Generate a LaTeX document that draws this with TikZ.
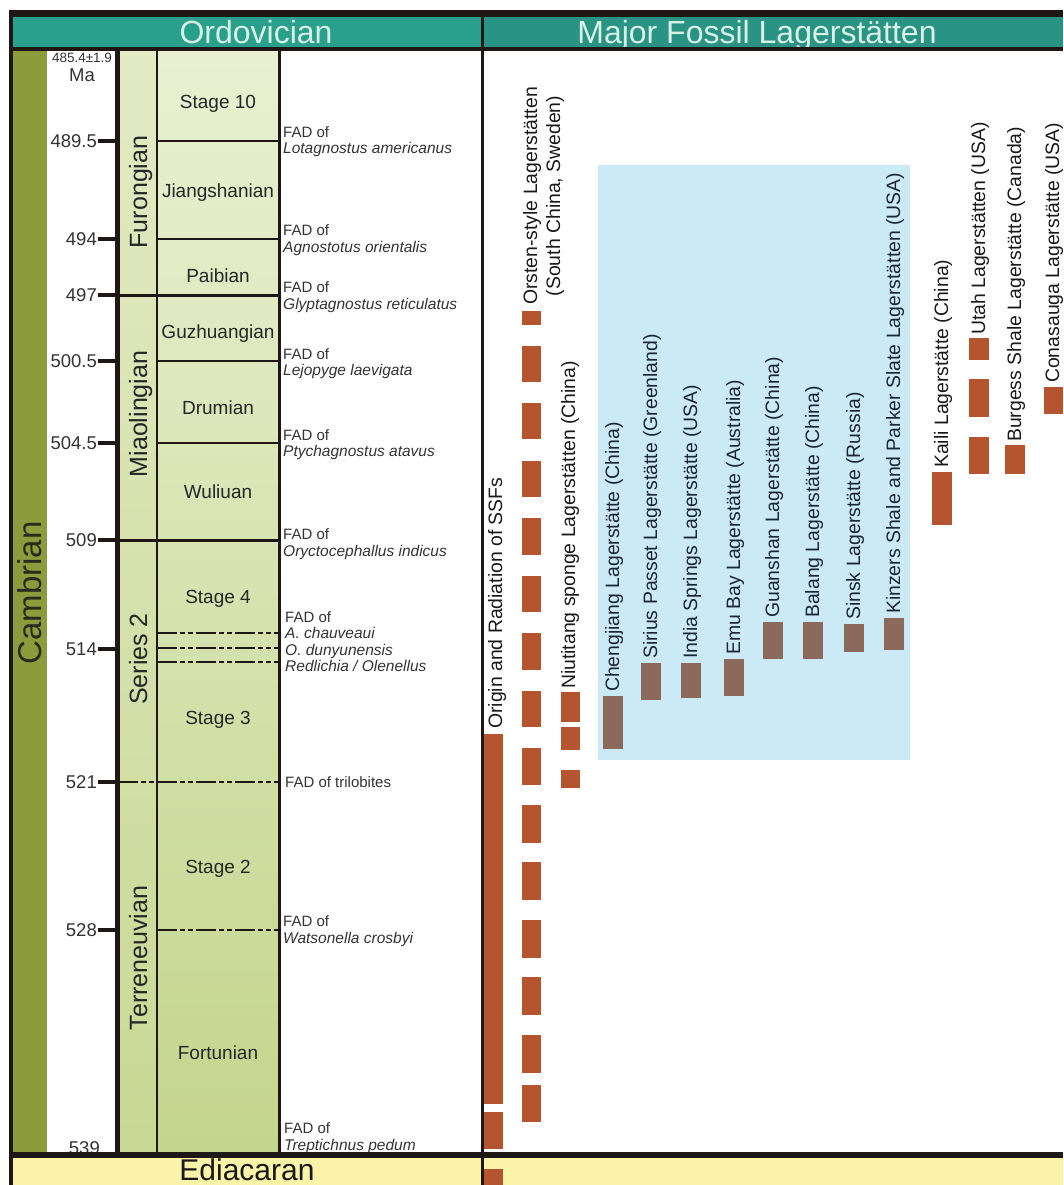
\documentclass[tikz,border=0pt]{standalone}
\usepackage{fontspec}
\setmainfont{Liberation Sans}
\definecolor{linec}{HTML}{1E1716}
\definecolor{hdrL}{HTML}{28A08B}
\definecolor{hdrR}{HTML}{2A9484}
\definecolor{hdrtxt}{HTML}{D8F0E6}
\definecolor{camb}{HTML}{8C9B3B}
\definecolor{cambtxt}{HTML}{2A2B1C}
\definecolor{stgtop}{HTML}{E9F0D2}
\definecolor{stgbot}{HTML}{C4D58C}
\definecolor{sertop}{HTML}{E2EAC4}
\definecolor{serbot}{HTML}{C9D894}
\definecolor{edia}{HTML}{FAF3A8}
\definecolor{bluebox}{HTML}{CCE9F6}
\definecolor{barc}{HTML}{B5552F}
\definecolor{barg}{HTML}{8B6A5B}
\definecolor{fadtxt}{HTML}{333333}
\definecolor{navy}{HTML}{1C2438}
\begin{document}
\begin{tikzpicture}[x=1pt,y=-1pt,
  hdrtext/.style={inner sep=0, anchor=base, font=\fontsize{32}{36}\selectfont},
  serieslbl/.style={rotate=90, anchor=base, inner sep=0, font=\fontsize{25}{28}\selectfont, text=black!85},
  stagelbl/.style={anchor=base, inner sep=0, font=\fontsize{19}{22}\selectfont, text=black!85},
  malbl/.style={anchor=base east, inner sep=0, font=\fontsize{18.5}{21}\selectfont, text=black!80},
  fadlbl/.style={anchor=base west, inner sep=0, font=\fontsize{15}{17}\selectfont, text=fadtxt},
  fadit/.style={anchor=base west, inner sep=0, font=\fontsize{15.5}{17}\selectfont\itshape, text=fadtxt},
  laglbl/.style={rotate=90, anchor=base west, inner sep=0, font=\fontsize{19.4}{23}\selectfont, text=black!90},
  lagblue/.style={laglbl, text=navy},
  obar/.style={fill=barc},
  gbar/.style={fill=barg},
  bline/.style={draw=linec, line width=2},
  sline/.style={draw=linec, line width=3},
  dline/.style={draw=linec, line width=2, dash pattern=on 20pt off 3pt on 5pt off 3pt on 5pt off 3pt},
  matick/.style={draw=linec, line width=4},
  frame/.style={draw=linec}
]
\useasboundingbox (0,0) rectangle (1063,1185);
\clip (0,0) rectangle (1063,1185);
% ---------- backgrounds ----------
\fill[hdrL] (11,13) rectangle (482,49);
\fill[hdrR] (482,13) rectangle (1063,49);
\fill[camb] (13,49) rectangle (47,1155);
\shade[top color=sertop, bottom color=serbot] (118,49) rectangle (157,1155);
\shade[top color=stgtop, bottom color=stgbot] (157,49) rectangle (279,1155);
\fill[edia] (11,1155) rectangle (1063,1185);
\fill[bluebox] (598,165) rectangle (910,760);
% ---------- headers ----------
\node[hdrtext, text=hdrtxt] (ordo) at (256,44) {Ordovician};
\node[hdrtext, text=hdrtxt] (major) at (757,44) {Major Fossil Lagerstätten};
\node[inner sep=0, anchor=base, font=\fontsize{30}{33}\selectfont, text=black!90] (edi) at (247,1180.5) {Ediacaran};
\node[rotate=90, anchor=base, inner sep=0, font=\fontsize{33}{36}\selectfont, text=cambtxt] (cam) at (41.5,593) {Cambrian};
% ---------- series ----------
\node[serieslbl] (furo) at (147,192) {Furongian};
\node[serieslbl] (miao) at (147,414) {Miaolingian};
\node[serieslbl] (ser2) at (147,659) {Series 2};
\node[serieslbl] (terr) at (147,958) {Terreneuvian};
% ---------- stages ----------
\node[stagelbl] (s10) at (218,109) {Stage 10};
\node[stagelbl] (jia) at (218,197) {Jiangshanian};
\node[stagelbl] (pai) at (218,282) {Paibian};
\node[stagelbl] (guz) at (218,338) {Guzhuangian};
\node[stagelbl] (dru) at (218,414) {Drumian};
\node[stagelbl] (wul) at (218,498) {Wuliuan};
\node[stagelbl] (st4) at (218,603) {Stage 4};
\node[stagelbl] (st3) at (218,724) {Stage 3};
\node[stagelbl] (st2) at (218,873) {Stage 2};
\node[stagelbl] (fort) at (218,1059) {Fortunian};
% ---------- Ma column ----------
\node[anchor=base, inner sep=0, font=\fontsize{13.5}{15}\selectfont, text=black!80] (ma0) at (82,63) {485.4±1.9};
\node[anchor=base, inner sep=0, font=\fontsize{18.5}{21}\selectfont, text=black!80] (ma) at (82,82) {Ma};
\foreach \v/\yy in {489.5/141, 494/239, 497/295, 500.5/361, 504.5/443, 509/540, 514/649, 521/782, 528/930} {
  \draw[matick] (98,\yy) -- (117,\yy);
  \node[malbl] at (97,\yy+6.5) {\v};
}
\node[malbl] (m539) at (100,1154) {539};
% ---------- FAD labels ----------
\node[fadlbl] (fa1) at (283,137.5) {FAD of};
\node[fadit]  (fb1) at (283,153.5) {Lotagnostus americanus};
\node[fadlbl] (fa2) at (283,235) {FAD of};
\node[fadit]  (fb2) at (283,252) {Agnostotus orientalis};
\node[fadlbl] (fa3) at (283,292) {FAD of};
\node[fadit]  (fb3) at (283,309) {Glyptagnostus reticulatus};
\node[fadlbl] (fa4) at (283,359) {FAD of};
\node[fadit]  (fb4) at (283,375) {Lejopyge laevigata};
\node[fadlbl] (fa5) at (283,440) {FAD of};
\node[fadit]  (fb5) at (283,456) {Ptychagnostus atavus};
\node[fadlbl] (fa6) at (283,539) {FAD of};
\node[fadit]  (fb6) at (283,556) {Oryctocephallus indicus};
\node[fadlbl] (fa7) at (285,622) {FAD of};
\node[fadit]  (fb7) at (285,638) {A. chauveaui};
\node[fadit]  (fc7) at (285,655) {O. dunyunensis};
\node[fadit]  (fd7) at (285,671) {Redlichia / Olenellus};
\node[fadlbl] (fa8) at (285,787) {FAD of trilobites};
\node[fadlbl] (fa9) at (283,926) {FAD of};
\node[fadit]  (fb9) at (283,943) {Watsonella crosbyi};
\node[fadlbl] (fa10) at (284,1133) {FAD of};
\node[fadit]  (fb10) at (284,1150) {Treptichnus pedum};
% ---------- stage boundaries ----------
\draw[bline] (157,141) -- (279,141);
\draw[bline] (157,239) -- (279,239);
\draw[sline] (118,295) -- (279,295);
\draw[bline] (157,361) -- (279,361);
\draw[bline] (157,443) -- (279,443);
\draw[sline] (118,540) -- (279,540);
\draw[dline] (157,633) -- (279,633);
\draw[dline] (157,648) -- (279,648);
\draw[dline] (157,662) -- (279,662);
\draw[dline] (118,782) -- (279,782);
\draw[dline] (157,930) -- (279,930);
% ---------- bars ----------
\fill[obar] (483,734) rectangle (503,1104);
\fill[obar] (483,1112) rectangle (503,1149);
\fill[obar] (483,1169) rectangle (503,1190);
\foreach \a/\b in {311/325,346/382,403/439,461/497,518/555,576/612,633/670,691/727,748/785,805/843,862/900,920/958,977/1015,1035/1073,1085/1122}
  \fill[obar] (522,\a) rectangle (541,\b);
\fill[obar] (561,692) rectangle (580,722);
\fill[obar] (561,727) rectangle (580,750);
\fill[obar] (561,770) rectangle (580,788);
\fill[gbar] (603,696) rectangle (623,749);
\fill[gbar] (641,663) rectangle (661,700);
\fill[gbar] (681,663) rectangle (701,698);
\fill[gbar] (724,659) rectangle (744,696);
\fill[gbar] (763,622) rectangle (783,659);
\fill[gbar] (803,622) rectangle (823,659);
\fill[gbar] (844,624) rectangle (864,652);
\fill[gbar] (884,618) rectangle (904,650);
\fill[obar] (932,472) rectangle (952,525);
\fill[obar] (969,338) rectangle (989,360);
\fill[obar] (969,379) rectangle (989,417);
\fill[obar] (969,437) rectangle (989,474);
\fill[obar] (1005,445) rectangle (1025,474);
\fill[obar] (1044,387) rectangle (1063,414);
% ---------- Lagerstaetten labels ----------
\node[laglbl] (ssf) at (502,729) {Origin and Radiation of SSFs};
\node[rotate=90, anchor=base, inner sep=0, font=\fontsize{19.4}{23}\selectfont, text=black!90] (ors1) at (537,196) {Orsten-style Lagerstätten};
\node[rotate=90, anchor=base, inner sep=0, font=\fontsize{19.4}{23}\selectfont, text=black!90] (ors2) at (560,196) {(South China, Sweden)};
\node[laglbl] (niu) at (575,689) {Niutitang sponge Lagerstätten (China)};
\node[lagblue] (che) at (619,692) {Chengjiang Lagerstätte (China)};
\node[lagblue] (sir) at (657,659) {Sirius Passet Lagerstätte (Greenland)};
\node[lagblue] (ind) at (697,659) {India Springs Lagerstätte (USA)};
\node[lagblue] (emu) at (740,655) {Emu Bay Lagerstätte (Australia)};
\node[lagblue] (gua) at (779,618) {Guanshan Lagerstätte (China)};
\node[lagblue] (bal) at (819,618) {Balang Lagerstätte (China)};
\node[lagblue] (sin) at (860,620) {Sinsk Lagerstätte (Russia)};
\node[lagblue] (kin) at (900,614) {Kinzers Shale and Parker Slate Lagerstätten (USA)};
\node[laglbl] (kai) at (948,468) {Kaili Lagerstätte (China)};
\node[laglbl] (uta) at (985,335) {Utah Lagerstätten (USA)};
\node[laglbl] (bur) at (1021,442) {Burgess Shale Lagerstätte (Canada)};
\node[laglbl] (con) at (1059,383) {Conasauga Lagerstätte (USA)};
% ---------- frame lines ----------
\draw[frame, line width=7] (9,13.5) -- (1063,13.5);
\draw[frame, line width=4] (9,49) -- (1063,49);
\draw[frame, line width=4] (11,10) -- (11,1185);
\draw[frame, line width=3] (482,10) -- (482,1185);
\draw[frame, line width=4.5] (117.5,49) -- (117.5,1155);
\draw[frame, line width=2] (156.5,49) -- (156.5,1155);
\draw[frame, line width=3.5] (279.5,49) -- (279.5,1155);
\draw[frame, line width=6] (9,1155) -- (1063,1155);
\end{tikzpicture}
\end{document}
